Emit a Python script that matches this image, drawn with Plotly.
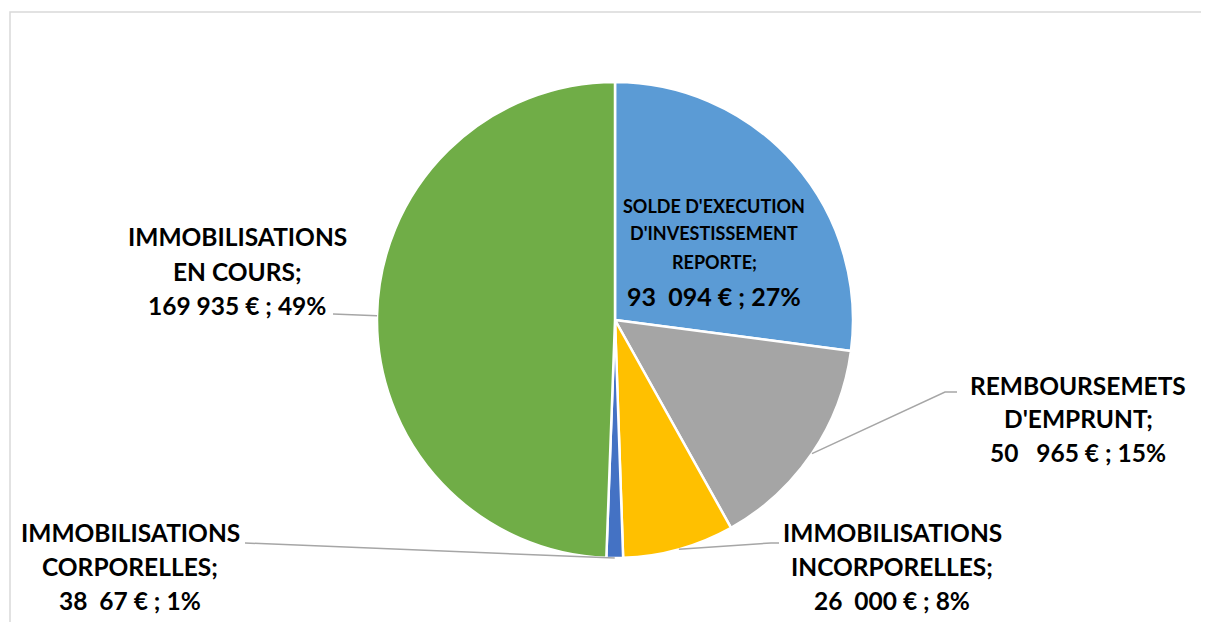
import math
import plotly.graph_objects as go

# ---- data ----
categories = ["SOLDE D'EXECUTION D'INVESTISSEMENT REPORTE",
              "REMBOURSEMETS D'EMPRUNT",
              "IMMOBILISATIONS INCORPORELLES",
              "IMMOBILISATIONS CORPORELLES",
              "IMMOBILISATIONS EN COURS"]
values = [93094, 50965, 26000, 3867, 169935]
colors = ["#5B9BD5", "#A5A5A5", "#FFC000", "#4472C4", "#70AD47"]
label_lines = [
    ["SOLDE D'EXECUTION", "D'INVESTISSEMENT", "REPORTE;"],
    ["REMBOURSEMETS", "D'EMPRUNT;"],
    ["IMMOBILISATIONS", "INCORPORELLES;"],
    ["IMMOBILISATIONS", "CORPORELLES;"],
    ["IMMOBILISATIONS", "EN COURS;"],
]
amount_text = ["93\u00a0\u00a0094 €", "50\u00a0\u00a0\u00a0965 €", "26\u00a0\u00a0000 €",
               "38\u00a0\u00a067 €", "169 935 €"]

OFF = 8  # page offset of the figure inside the browser window
W, H = 1209 - OFF, 622 - OFF
CX, CY, R = 615, 320, 238  # pie centre/radius in window pixels

def px(x):
    return (x - OFF) / W

def py(y):
    return 1 - (y - OFF) / H

total = sum(values)
pcts = [round(v / total * 100) for v in values]

fig = go.Figure(go.Pie(
    labels=categories, values=values, sort=False, direction="clockwise",
    rotation=0, marker=dict(colors=colors, line=dict(color="white", width=2.5)),
    textinfo="none", hoverinfo="label+value+percent", showlegend=False,
    domain=dict(x=[px(CX - R), px(CX + R)], y=[py(CY + R), py(CY - R)]),
))

FONT = "Lato"
annotations = []
shapes = []

# label layout: centre x and y of each text line (window pixels)
label_x = [714, 1078, 892, 130, 237]
label_ys = [[206, 233, 262, 296], [385, 418, 452], [532, 566, 600],
            [532, 566, 600], [237, 271, 305]]
elbows = [None, [(945, 392), (957, 392)], [(771, 543), (779, 543)],
          [(245, 543)], [(333, 314)]]

for i in range(len(values)):
    lines = label_lines[i] + [f"{amount_text[i]} ; {pcts[i]}%"]
    for j, l in enumerate(lines):
        if i == 0:
            size = 25 if j == len(lines) - 1 else 18
        else:
            size = 24.5
        annotations.append(dict(x=px(label_x[i]), y=py(label_ys[i][j]),
                                xref="paper", yref="paper",
                                text=f"<b>{l}</b>", showarrow=False,
                                xanchor="center", yanchor="middle",
                                font=dict(family=FONT, size=size, color="black")))

# leader lines from slice mid-angles
cum = 0
for i, v in enumerate(values):
    mid = (cum + v / 2) / total * 2 * math.pi
    cum += v
    if elbows[i] is None:
        continue
    sx = CX + R * math.sin(mid)
    sy = CY - R * math.cos(mid)
    pts = [(sx, sy)] + elbows[i]
    path = "M " + " L ".join(f"{px(a)},{py(b)}" for a, b in pts)
    shapes.append(dict(type="path", xref="paper", yref="paper", path=path,
                       line=dict(color="#A6A6A6", width=1.5)))

# chart frame
shapes.append(dict(type="rect", xref="paper", yref="paper",
                   x0=px(10), y0=py(12), x1=1.05, y1=-0.05,
                   line=dict(color="#D9D9D9", width=1.5)))

fig.update_layout(width=W, height=H, margin=dict(l=0, r=0, t=0, b=0),
                  paper_bgcolor="white", plot_bgcolor="white",
                  annotations=annotations, shapes=shapes,
                  font=dict(family=FONT))
fig.write_html("out.html")
